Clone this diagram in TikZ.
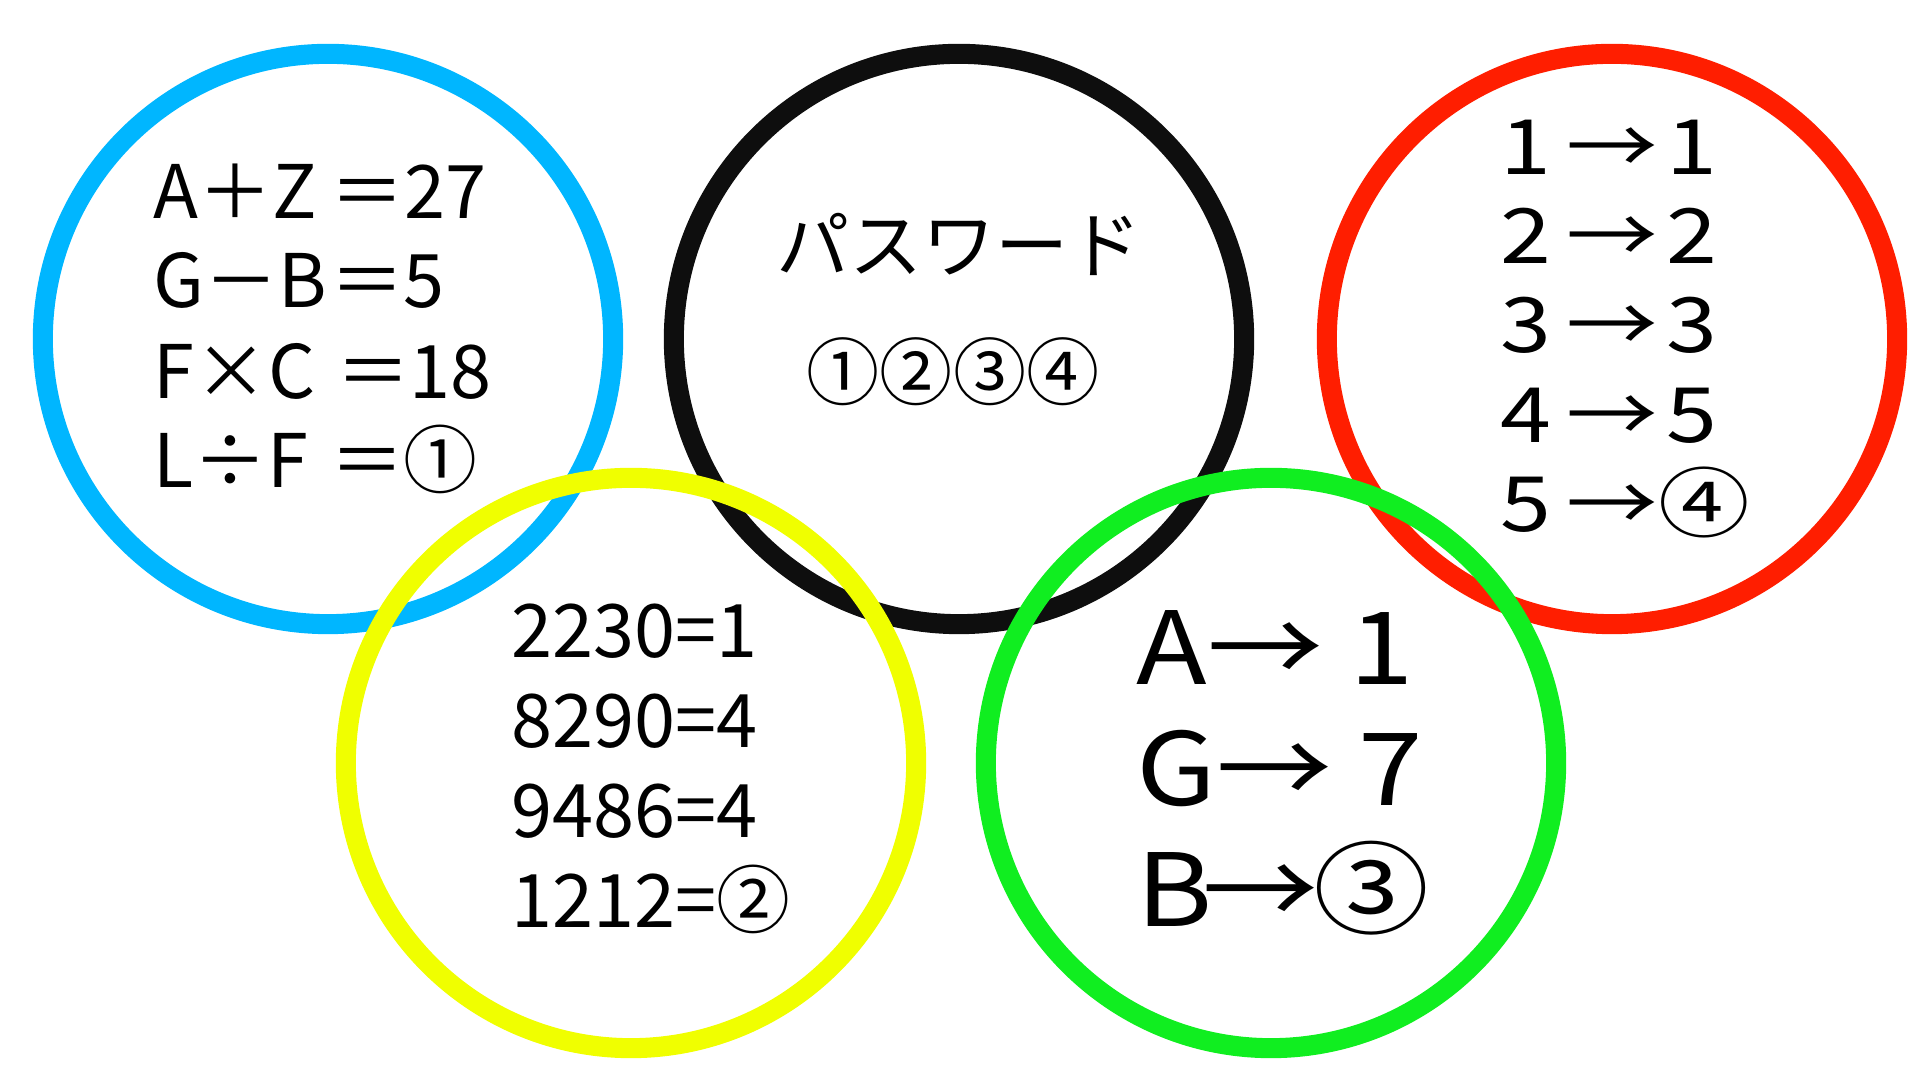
\documentclass[tikz,border=0pt]{standalone}
\usepackage{fontspec}
\setmainfont{Noto Sans CJK JP}
\newfontfamily\widefont[FakeStretch=1.2]{Noto Sans CJK JP}
\newfontfamily\midfont[FakeStretch=1.15]{Noto Sans CJK JP}
\definecolor{ringblue}{RGB}{0,182,255}
\definecolor{ringblack}{RGB}{14,14,14}
\definecolor{ringred}{RGB}{255,30,0}
\definecolor{ringyellow}{RGB}{240,255,0}
\definecolor{ringgreen}{RGB}{16,238,32}
\newcommand{\lhs}[1]{\makebox[2.39em][l]{#1}}
\newcommand{\maps}{\hspace{0.2em}→\hspace{0.1em}}
\begin{document}
\begin{tikzpicture}[x=0.01cm,y=-0.01cm]
        \tikzstyle{every node}=[inner sep=0pt, anchor=base west]
        \tikzstyle{ring}=[line width=5.7pt]
        \tikzstyle{txt}=[font=\fontsize{21}{21}\selectfont]
        \tikzstyle{redtxt}=[font=\widefont\fontsize{21.7}{21.7}\selectfont]
        \tikzstyle{big}=[font=\midfont\fontsize{28.7}{28.7}\selectfont]
        \tikzstyle{jp}=[font=\fontsize{20.8}{20.8}\selectfont, anchor=base]
        \useasboundingbox (0,0) rectangle (1920,1080);
        % rings, back row first
        \draw[ring, ringblue] (328,339) circle[radius=2.85cm];
        \draw[ring, ringblack] (959,339) circle[radius=2.85cm];
        \draw[ring, ringred] (1612,339) circle[radius=2.85cm];
        \draw[ring, ringyellow] (631,763) circle[radius=2.85cm];
        \draw[ring, ringgreen] (1271,763) circle[radius=2.85cm];
        % blue
        \node[txt] (az) at (153,219) {\lhs{A＋Z}＝27};
        \node[txt] (gb) at (153,308) {\lhs{G－B}＝5};
        \node[txt] (fc) at (153,399) {\makebox[2.47em][l]{F×C}＝18};
        \node[txt] (lf) at (153,488) {\lhs{L÷F}＝①};
        % black
        \node[jp] (pw) at (959,273) {パスワード};
        \node[jp] (key) at (953,400) {①②③④};
        % red
        \node[redtxt] (r1) at (1500,175) {1\maps1};
        \node[redtxt] (r2) at (1500,264) {2\maps2};
        \node[redtxt] (r3) at (1500,353) {3\maps3};
        \node[redtxt] (r4) at (1500,443) {4\maps5};
        \node[redtxt] (r5) at (1500,532) {5\hspace{0.2em}→④};
        % yellow
        \node[txt] (y1) at (511,658) {2230=1};
        \node[txt] (y2) at (511,748) {8290=4};
        \node[txt] (y3) at (511,838) {9486=4};
        \node[txt] (y4) at (511,928) {1212=②};
        % green
        \node[big] (ga) at (1136,685) {A→ 1};
        \node[big] (gg) at (1136,806) {G→ 7};
        \node[big] (gbb) at (1136,927) {B\hspace{-0.1em}→\hspace{-0.05em}③};
\end{tikzpicture}
\end{document}
